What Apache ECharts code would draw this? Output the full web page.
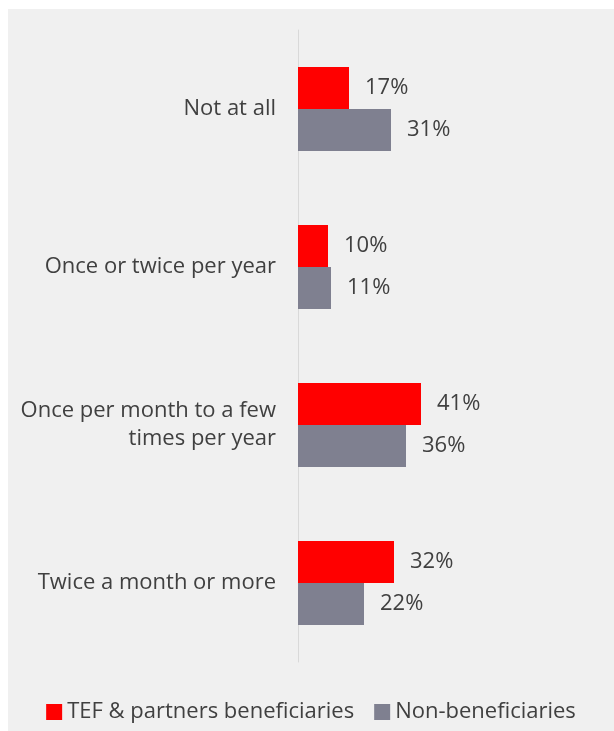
<!DOCTYPE html>
<html>
<head>
<meta charset="utf-8">
<script src="https://cdn.jsdelivr.net/npm/echarts@6/dist/echarts.min.js"></script>
<style>
  body { margin: 0; background: #ffffff; }
  #chart { position: absolute; left: 8px; top: 9px; width: 606px; height: 722px; background: #f0f0f0; }
</style>
</head>
<body>
<div id="chart"></div>
<script>
// frequency categories, top to bottom
const categories = [
  "Not at all",
  "Once or twice per year",
  "Once per month to a few\ntimes per year",
  "Twice a month or more"
];
const tefValues = [17, 10, 41, 32];
const nonValues = [31, 11, 36, 22];
const seriesNames = ["TEF & partners beneficiaries", "Non-beneficiaries"];

const chart = echarts.init(document.getElementById("chart"));
const font = "Open Sans";
const textColor = "#404040";

const labelStyle = {
  show: true,
  position: "right",
  distance: 16,
  formatter: "{c}%",
  fontFamily: font,
  fontSize: 22,
  color: textColor
};

chart.setOption({
  animation: false,
  grid: { left: 290, top: 21, width: 300, height: 632, containLabel: false },
  legend: {
    bottom: 3,
    left: "center",
    itemWidth: 16,
    itemHeight: 16,
    itemGap: 20,
    itemTextGap: 3,
    icon: "rect",
    textStyle: { fontFamily: font, fontSize: 22, color: textColor },
    data: seriesNames
  },
  xAxis: {
    type: "value",
    min: 0,
    max: 100,
    show: false
  },
  yAxis: {
    type: "category",
    inverse: true,
    data: categories,
    axisLine: { show: true, lineStyle: { color: "#d9d9d9", width: 1 } },
    axisTick: { show: false },
    axisLabel: {
      margin: 22,
      fontFamily: font,
      fontSize: 22,
      lineHeight: 28,
      color: textColor,
      align: "right"
    }
  },
  series: [
    {
      name: seriesNames[0],
      type: "bar",
      data: tefValues,
      barWidth: 42,
      barGap: "0%",
      itemStyle: { color: "#ff0000" },
      label: labelStyle
    },
    {
      name: seriesNames[1],
      type: "bar",
      data: nonValues,
      barWidth: 42,
      itemStyle: { color: "#7f8090" },
      label: labelStyle
    }
  ]
});
</script>
</body>
</html>
